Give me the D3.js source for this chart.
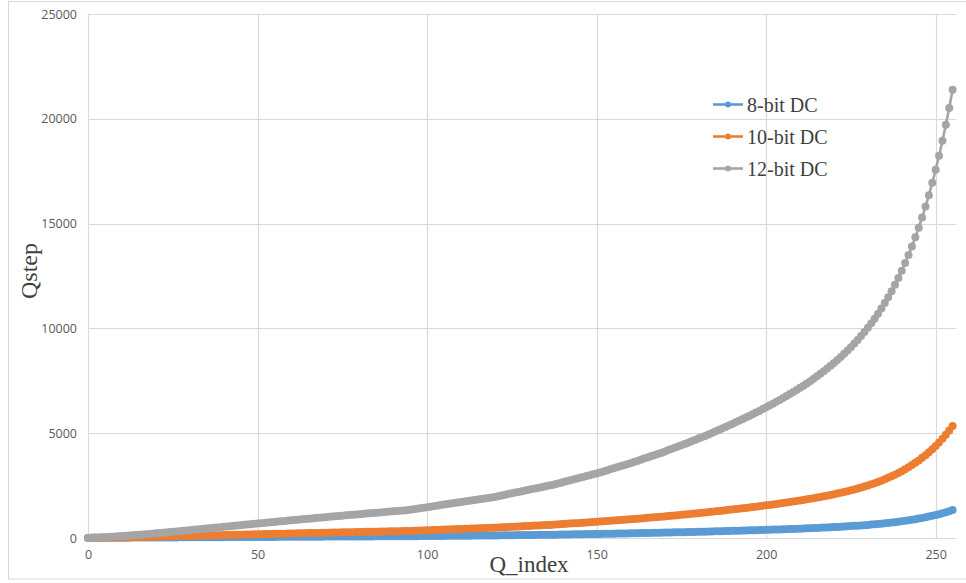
<!DOCTYPE html>
<html><head><meta charset="utf-8">
<script src="https://cdn.jsdelivr.net/npm/d3@7"></script>
<style>body{margin:0;background:#fff}svg{display:block}</style>
</head><body><svg id="c" width="966" height="583"></svg>
<script>
const seriesNames = ["8-bit DC", "10-bit DC", "12-bit DC"];
const dc8 = [4,8,8,9,10,11,12,12,13,14,15,16,17,18,19,19,20,21,22,23,24,25,26,26,27,28,29,30,31,32,32,33,34,35,36,37,38,38,39,40,41,42,43,43,44,45,46,47,48,48,49,50,51,52,53,53,54,55,56,57,57,58,59,60,61,62,62,63,64,65,66,66,67,68,69,70,70,71,72,73,74,74,75,76,77,78,78,79,80,81,81,82,83,84,85,85,87,88,90,92,93,95,96,98,99,101,102,104,105,107,108,110,111,113,114,116,117,118,120,121,123,125,127,129,131,134,136,138,140,142,144,146,148,150,152,154,156,158,161,164,166,169,172,174,177,180,182,185,187,190,192,195,199,202,205,208,211,214,217,220,223,226,230,233,237,240,243,247,250,253,257,261,265,269,272,276,280,284,288,292,296,300,304,309,313,317,322,326,330,335,340,344,349,354,359,364,369,374,379,384,389,395,400,406,411,417,423,429,435,441,447,454,461,467,475,482,489,497,505,513,522,530,539,549,559,569,579,590,602,614,626,640,654,668,684,700,717,736,755,775,796,819,843,869,896,925,955,988,1022,1058,1098,1139,1184,1232,1282,1336];
const dc10 = [4,9,10,13,15,17,20,22,25,28,31,34,37,40,43,47,50,53,57,60,64,68,71,75,78,82,86,90,93,97,101,105,109,113,116,120,124,128,132,136,140,143,147,151,155,159,163,166,170,174,178,182,185,189,193,197,200,204,208,212,215,219,223,226,230,233,237,241,244,248,251,255,259,262,266,269,273,276,280,283,287,290,293,297,300,304,307,310,314,317,321,324,327,331,334,337,343,350,356,362,369,375,381,387,394,400,406,412,418,424,430,436,442,448,454,460,466,472,478,484,490,499,507,516,525,533,542,550,559,567,576,584,592,601,609,617,625,634,644,655,666,676,687,698,708,718,729,739,749,759,770,782,795,807,819,831,844,856,868,880,891,906,920,933,947,961,975,988,1001,1015,1030,1045,1061,1076,1090,1105,1120,1137,1153,1170,1186,1202,1218,1236,1253,1271,1288,1306,1323,1342,1361,1379,1398,1416,1436,1456,1476,1496,1516,1537,1559,1580,1601,1624,1647,1670,1692,1717,1741,1766,1791,1817,1844,1871,1900,1929,1958,1990,2021,2054,2088,2123,2159,2197,2236,2276,2319,2363,2410,2458,2508,2561,2616,2675,2737,2802,2871,2944,3020,3102,3188,3280,3375,3478,3586,3702,3823,3953,4089,4236,4394,4559,4737,4929,5130,5347];
const dc12 = [4,12,18,25,33,41,50,60,70,80,91,103,115,127,140,153,166,180,194,208,222,237,251,266,281,296,312,327,343,358,374,390,405,421,437,453,469,484,500,516,532,548,564,580,596,611,627,643,659,674,690,706,721,737,752,768,783,798,814,829,844,859,874,889,904,919,934,949,964,978,993,1008,1022,1037,1051,1065,1080,1094,1108,1122,1136,1151,1165,1179,1192,1206,1220,1234,1248,1261,1275,1288,1302,1315,1329,1342,1368,1393,1419,1444,1469,1494,1519,1544,1569,1594,1618,1643,1668,1692,1717,1741,1765,1789,1814,1838,1862,1885,1909,1933,1957,1992,2027,2061,2096,2130,2165,2199,2233,2267,2300,2334,2367,2400,2434,2467,2499,2532,2575,2618,2661,2704,2746,2788,2830,2872,2913,2954,2995,3036,3076,3127,3177,3226,3275,3324,3373,3421,3469,3517,3565,3621,3677,3733,3788,3843,3897,3951,4005,4058,4119,4181,4241,4301,4361,4420,4479,4546,4612,4677,4742,4807,4871,4942,5013,5083,5153,5222,5291,5367,5442,5517,5591,5665,5745,5825,5905,5984,6063,6149,6234,6319,6404,6495,6587,6678,6769,6867,6966,7064,7163,7269,7376,7483,7599,7715,7832,7958,8085,8214,8352,8492,8635,8788,8945,9104,9275,9450,9639,9832,10031,10245,10465,10702,10946,11210,11482,11776,12081,12409,12750,13118,13501,13913,14343,14807,15290,15812,16356,16943,17575,18237,18949,19718,20521,21387];
const xTicks = [0, 50, 100, 150, 200, 250];
const yTicks = [0, 5000, 10000, 15000, 20000, 25000];
const colors = ["#5b9bd5", "#ed7d31", "#a5a5a5"];

const svg = d3.select("#c");
const L = 88, R = 956, T = 14, B = 538;
const x = d3.scaleLinear().domain([0, 256]).range([L, R]);
const y = d3.scaleLinear().domain([0, 25000]).range([B, T]);
const serif = "'Liberation Serif', 'Times New Roman', serif";

// outer frame
svg.append("rect").attr("x", 8.5).attr("y", 1.5).attr("width", 970).attr("height", 577.5)
  .attr("fill", "none").attr("stroke", "#d9d9d9").attr("stroke-width", 1);

// gridlines
const g = svg.append("g");
g.selectAll(".hy").data(yTicks).join("line")
  .attr("x1", L).attr("x2", R).attr("y1", d => Math.round(y(d)) + 0.5).attr("y2", d => Math.round(y(d)) + 0.5)
  .attr("stroke", "#d9d9d9").attr("stroke-width", 1.2);
g.selectAll(".vx").data(xTicks).join("line")
  .attr("y1", T).attr("y2", B).attr("x1", d => Math.round(x(d)) + 0.5).attr("x2", d => Math.round(x(d)) + 0.5)
  .attr("stroke", "#d9d9d9").attr("stroke-width", 1.2);

// axes labels via d3 axes
const yAxis = svg.append("g").attr("transform", `translate(${L},0)`)
  .call(d3.axisLeft(y).tickValues(yTicks).tickSize(0).tickPadding(11).tickFormat(d3.format("d")));
const xAxis = svg.append("g").attr("transform", `translate(0,${B})`)
  .call(d3.axisBottom(x).tickValues(xTicks).tickSize(0).tickPadding(12).tickFormat(d3.format("d")));
[yAxis, xAxis].forEach(a => {
  a.select(".domain").remove();
  a.selectAll("text").attr("fill", "#595959").style("font-family", "'Open Sans', sans-serif").style("font-size", "12.5px");
});

// series
const data = [dc8, dc10, dc12];
const line = d3.line().x((d, i) => x(i)).y(d => y(d));
data.forEach((arr, k) => {
  const sg = svg.append("g");
  sg.append("path").datum(arr).attr("d", line).attr("fill", "none")
    .attr("stroke", colors[k]).attr("stroke-width", 2.6);
  sg.selectAll("circle").data(arr).join("circle")
    .attr("cx", (d, i) => x(i)).attr("cy", d => y(d)).attr("r", 4).attr("fill", colors[k]);
});

// axis titles
svg.append("text").attr("x", 529).attr("y", 572).attr("text-anchor", "middle")
  .style("font-family", serif).style("font-size", "23px").attr("fill", "#404040")
  .text("Q_index");
svg.append("text").attr("transform", "translate(37,271) rotate(-90)").attr("text-anchor", "middle")
  .style("font-family", serif).style("font-size", "24px").attr("fill", "#404040")
  .text("Qstep");

// legend
const leg = svg.append("g");
seriesNames.forEach((n, k) => {
  const yy = 104.5 + k * 32;
  leg.append("line").attr("x1", 713).attr("x2", 743).attr("y1", yy).attr("y2", yy)
    .attr("stroke", colors[k]).attr("stroke-width", 2.6);
  leg.append("circle").attr("cx", 728).attr("cy", yy).attr("r", 3).attr("fill", colors[k]);
  leg.append("text").attr("x", 747).attr("y", yy + 7).text(n)
    .style("font-family", serif).style("font-size", "20px").attr("fill", "#404040");
});
</script></body></html>
